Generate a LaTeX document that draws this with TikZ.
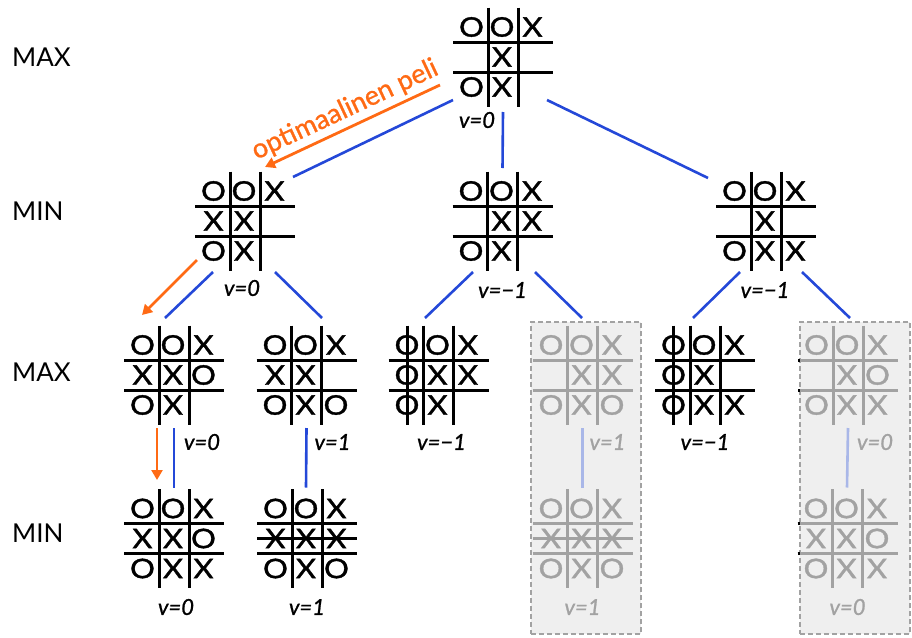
\documentclass[tikz,border=0pt]{standalone}
\usepackage{fontspec}
\setmainfont{Lato}
\usetikzlibrary{arrows.meta}

\definecolor{edgeblue}{HTML}{2448D8}
\definecolor{optorange}{HTML}{FF6A14}
\definecolor{fadegrey}{HTML}{A2A2A2}
\definecolor{fadeblue}{HTML}{A9B7E8}
\definecolor{boxfill}{HTML}{EFEFEF}

\tikzset{
  boardbox/.style={minimum size=100pt, inner sep=0pt, outer sep=0pt},
  gridline/.style={line width=3pt},
  markstyle/.style={inner sep=0pt, font=\fontsize{27}{27}\selectfont\addfontfeature{FakeBold=1.3,FakeStretch=1.15}},
  vlabel/.style={inner sep=0pt, font=\fontsize{22}{22}\selectfont\itshape\addfontfeature{FakeBold=1}},
  levellabel/.style={inner sep=0pt, anchor=west, font=\fontsize{26}{26}\selectfont},
  edge/.style={line width=2.6pt, draw=edgeblue},
  fadeedge/.style={line width=2.6pt, draw=fadeblue},
  optarrow/.style={line width=2.8pt, draw=optorange, -{Triangle[length=10pt,width=11pt]}},
  greybox/.style={draw=fadegrey, fill=boxfill, dash pattern=on 5pt off 3pt,
    line width=2pt, minimum width=110pt, minimum height=312pt, inner sep=0pt}
}

% marks: O, X, n = empty square
\def\mkO{O}\def\mkX{X}\def\mkn{}

% \tttboard{name}{position}{colour}{nine marks, row by row}
\newcommand\tttboard[4]{%
  \node[boardbox] (#1) at #2 {};
  \foreach \d in {-15,15}{
    \draw[gridline,#3] ([shift={(\d,-49.5)}]#1.center) -- ([shift={(\d,49.5)}]#1.center);
    \draw[gridline,#3] ([shift={(-50,\d)}]#1.center) -- ([shift={(50,\d)}]#1.center);
  }
  \foreach \m [count=\k from 0] in {#4}{
    \pgfmathsetmacro\mx{-31.5+30.5*mod(\k,3)}
    \pgfmathsetmacro\my{-30+30*div(\k,3)}
    \node[markstyle,text=#3] (#1-\k) at ([shift={(\mx,\my)}]#1.center) {\csname mk\m\endcsname};
  }
}

\begin{document}
\begin{tikzpicture}[x=1pt,y=-1pt]
\useasboundingbox (0,0) rectangle (912,637);

% pruned branches
\node[greybox] (g1) at (586,478) {};
\node[greybox] (g2) at (855,478) {};

% level names
\node[levellabel] (lv0) at (12,57.5) {MAX};
\node[levellabel] (lv1) at (12,211) {MIN};
\node[levellabel] (lv2) at (12,372) {MAX};
\node[levellabel] (lv3) at (12,533) {MIN};

% boards
\tttboard{b0}{(503,57)}{black}{O,O,X,n,X,n,O,X,n}

\tttboard{b1}{(245,221)}{black}{O,O,X,X,X,n,O,X,n}
\tttboard{b2}{(502.5,221)}{black}{O,O,X,n,X,X,O,X,n}
\tttboard{b3}{(766,221)}{black}{O,O,X,n,X,n,O,X,X}

\tttboard{b11}{(174,375)}{black}{O,O,X,X,X,O,O,X,n}
\tttboard{b12}{(306.5,375)}{black}{O,O,X,X,X,n,O,X,O}
\tttboard{b21}{(438.5,375)}{black}{O,O,X,O,X,X,O,X,n}
\tttboard{b22}{(582.5,375)}{fadegrey}{O,O,X,n,X,X,O,X,O}
\tttboard{b31}{(705,375)}{black}{O,O,X,O,X,n,O,X,X}
\tttboard{b32}{(848,375)}{fadegrey}{O,O,X,n,X,O,O,X,X}

\tttboard{b111}{(174,538.5)}{black}{O,O,X,X,X,O,O,X,X}
\tttboard{b121}{(307,538.5)}{black}{O,O,X,X,X,X,O,X,O}
\tttboard{b221}{(582.5,538.5)}{fadegrey}{O,O,X,X,X,X,O,X,O}
\tttboard{b321}{(847.5,538.5)}{fadegrey}{O,O,X,X,X,O,O,X,X}

% winning lines
\draw[gridline] ([shift={(-31.5,-49.5)}]b21.center) -- ([shift={(-31.5,49.5)}]b21.center);
\draw[gridline] ([shift={(-32,-49.5)}]b31.center) -- ([shift={(-32,49.5)}]b31.center);
\draw[gridline] ([shift={(-50,0)}]b121.center) -- ([shift={(50,0)}]b121.center);
\draw[gridline,fadegrey] ([shift={(-50,0)}]b221.center) -- ([shift={(50,0)}]b221.center);

% dark ends of the faded grid lines at the box edge
\foreach \d in {-15,15}{
  \draw[gridline,black] ([shift={(-50,\d)}]b32.center) -- ([shift={(-48,\d)}]b32.center);
  \draw[gridline,black] ([shift={(-50,\d)}]b321.center) -- ([shift={(-48,\d)}]b321.center);
}

% values
\node[vlabel] (l0) at ([shift={(-26,63)}]b0.center) {v=0};
\node[vlabel] (l1) at ([shift={(-3,67)}]b1.center) {v=0};
\node[vlabel] (l2) at ([shift={(0,69)}]b2.center) {v=−1};
\node[vlabel] (l3) at ([shift={(-1,69)}]b3.center) {v=−1};
\node[vlabel] (l11) at ([shift={(28,67)}]b11.center) {v=0};
\node[vlabel] (l12) at ([shift={(26,67)}]b12.center) {v=1};
\node[vlabel] (l21) at ([shift={(3,67)}]b21.center) {v=−1};
\node[vlabel,text=fadegrey] (l22) at ([shift={(25,67)}]b22.center) {v=1};
\node[vlabel] (l31) at ([shift={(0,67)}]b31.center) {v=−1};
\node[vlabel,text=fadegrey] (l32) at ([shift={(27,67)}]b32.center) {v=0};
\node[vlabel] (l111) at ([shift={(2,68.5)}]b111.center) {v=0};
\node[vlabel] (l121) at ([shift={(0,68.5)}]b121.center) {v=1};
\node[vlabel,text=fadegrey] (l221) at ([shift={(0,68.5)}]b221.center) {v=1};
\node[vlabel,text=fadegrey] (l321) at ([shift={(0,68.5)}]b321.center) {v=0};

% tree edges
\draw[edge] ([shift={(-50,43)}]b0.center) -- ([shift={(48,-44)}]b1.center);
\draw[edge] ([shift={(0,55)}]b0.center) -- ([shift={(0,-53)}]b2.center);
\draw[edge] ([shift={(44,43)}]b0.center) -- ([shift={(-58,-43)}]b3.center);

\draw[edge] ([shift={(-32,51)}]b1.center) -- ([shift={(-9,-57)}]b11.center);
\draw[edge] ([shift={(30,51)}]b1.center) -- ([shift={(15.5,-57)}]b12.center);
\draw[edge] ([shift={(-29.5,51)}]b2.center) -- ([shift={(-13.5,-57)}]b21.center);
\draw[edge] ([shift={(32.5,51)}]b2.center) -- ([shift={(-0.5,-57)}]b22.center);
\draw[edge] ([shift={(-26,51)}]b3.center) -- ([shift={(-12,-57)}]b31.center);
\draw[edge] ([shift={(36,51)}]b3.center) -- ([shift={(2,-57)}]b32.center);

\draw[edge] ([shift={(0,53)}]b11.center) -- ([shift={(0,-51)}]b111.center);
\draw[edge] ([shift={(0,53)}]b12.center) -- ([shift={(-1,-51)}]b121.center);
\draw[fadeedge] ([shift={(0,53)}]b22.center) -- ([shift={(0,-51)}]b221.center);
\draw[fadeedge] ([shift={(0,53)}]b32.center) -- ([shift={(-0.5,-51)}]b321.center);

% optimal play
\draw[optarrow] ([shift={(-63,28)}]b0.center) -- ([shift={(20,-54)}]b1.center)
  node[midway, sloped, above=4pt, inner sep=0pt, text=optorange,
       font=\fontsize{27}{27}\selectfont\addfontfeature{FakeBold=1}] (opt) {optimaalinen peli};
\draw[optarrow] ([shift={(-48,39)}]b1.center) -- ([shift={(-32,-60)}]b11.center);
\draw[optarrow] ([shift={(-17,53)}]b11.center) -- ([shift={(-17,-58.5)}]b111.center);

\end{tikzpicture}
\end{document}
